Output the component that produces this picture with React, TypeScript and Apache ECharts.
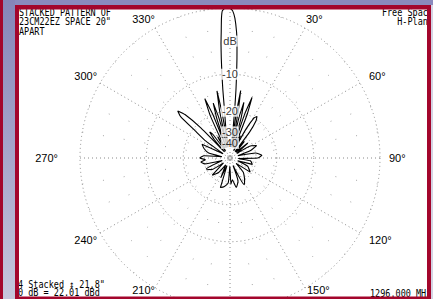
import React, { useEffect, useRef } from "react";
import * as echarts from "echarts";

// Radiation pattern (compass angle in degrees, gain in dB relative to 0 dB)
const patternAngles = [
  0, 1, 2, 3, 3.5, 4, 4.5, 5, 5.5, 6, 6.5, 8, 9, 10, 11, 12.5, 14, 15.5, 17, 18.5, 20, 21.5, 23,
  25, 26.5, 29, 31, 33, 35, 37, 38.5, 41, 46, 50, 56, 60, 65, 70, 74, 79, 85, 90, 94, 98, 106, 110, 115, 125, 131, 137,
  146, 152, 158, 161, 168, 174, 178, 181, 184, 192, 198, 202, 205, 212, 218, 226, 233, 238, 245, 252, 257, 262, 266,
  270, 275, 279, 283, 290, 296, 302, 305, 308, 310, 312, 314, 316, 318, 319.5, 322, 324, 327, 330, 333, 335, 337,
  338.5, 340, 341.5, 343, 344.5, 346, 347.5, 349, 350, 351, 352, 353.5, 354, 354.5, 355, 355.5,
  356, 356.5, 357, 358, 359, 360,
];
const patternDb = [
  0, -0.3, -1.2, -3, -4.6, -7, -10, -13.5, -19, -28, -45, -20, -13.5, -20, -45, -22, -16.5, -22, -45, -20,
  -14.5, -20, -45, -31, -50, -26, -20, -19, -20.5, -26, -50, -33, -50, -32, -50, -31, -28, -33, -50,
  -30, -26.5, -29, -50, -34, -32, -50, -35, -31, -50, -35, -30, -27.5, -50, -31, -27.5, -33, -30, -50, -31, -28, -27,
  -50, -33, -50, -36, -31, -50, -33, -30, -50, -30, -28, -31, -27.5, -30, -50, -33, -29, -27, -50, -28, -21, -14.5,
  -13, -15, -22, -50, -31, -26, -28, -50, -31, -45, -20, -14.5, -20, -45, -22, -16.5, -22, -45, -20, -13.5, -20,
  -45, -28, -19, -13.5, -10, -7, -4.6, -3, -1.2, -0.3, 0,
];

// Grid rings (dB) and their labels on the 0° axis
const ringDb = [0, -10, -20, -30, -40];
const scaleLabels = ["dB", "-10", "-20", "-30", "-40"];

// Text blocks
const titleLines = ["STACKED PATTERN OF", '23CM22EZ SPACE 20"', "APART"];
const planeLines = ["Free Space", "H-Plane"];
const footerLines = ['4 Stacked \u2195 21.8"', "0 dB = 22.01 dBd"];
const freqLabel = "1296.000 MHz";

const CX = 230;
const CY = 158;
const R = 150;
const RED = "#a3062c";
const GRID = "#8a8a8a";
const MONO = '"DejaVu Sans Mono", "Liberation Mono", monospace';
const SANS = '"Liberation Sans", Arial, sans-serif';

// per-label nudges of the compass labels: [top, right, bottom, left]
const anglePad: Record<number, number[]> = {
  30: [0, 0, 5, 1],
  60: [0, 0, 2, 9],
  90: [0, 0, 0, 9],
  120: [0, 0, 0, 9],
  150: [0, 0, 0, 2],
  210: [0, 0, 0, 0],
  240: [0, 3, 0, 0],
  270: [0, 22, 0, 0],
  300: [0, 3, 2, 0],
  330: [0, 0, 5, 0],
};
// compass labels that sit on the bottom edge get a tighter line box (lifts them)
const tightLabels = [150, 210];

// ARRL log scale: each 2 dB step shrinks radius by factor 0.89
const arrl = (db: number) => Math.pow(0.89, -db / 2);

export default function App() {
  const ref = useRef<HTMLDivElement>(null);

  useEffect(() => {
    if (!ref.current) return;
    const chart = echarts.init(ref.current, undefined, { renderer: "svg" });

    const ringPolars = ringDb.slice(1).map((db) => ({ center: [CX, CY], radius: R * arrl(db) }));
    const polar = [{ center: [CX, CY], radius: R }, ...ringPolars];

    const ringAngleAxes = ringDb.slice(1).map((_, i) => ({
      polarIndex: i + 1,
      type: "value",
      min: 0,
      max: 360,
      startAngle: 90,
      clockwise: true,
      axisLine: { show: true, lineStyle: { color: GRID, width: 1, type: [1, 3] } },
      axisTick: { show: false },
      axisLabel: { show: false },
      splitLine: { show: false },
    }));

    const radiusAxes = polar.map((_, i) => ({
      polarIndex: i,
      type: "value",
      min: 0,
      max: 1,
      axisLine: { show: false },
      axisTick: { show: false },
      axisLabel: { show: false },
      splitLine: { show: false },
    }));

    const patternData = patternAngles.map((a, i) => [arrl(patternDb[i]), a]);

    const labelData = scaleLabels.map((t, i) => {
      const r = i === 0 ? (arrl(ringDb[0]) + arrl(ringDb[1])) / 2 : arrl(ringDb[i]);
      return { value: [r, 0], name: t };
    });

    const rich: Record<string, any> = {};
    Object.keys(anglePad).forEach((k) => {
      const n = Number(k);
      rich["a" + k] = {
        padding: anglePad[n],
        fontSize: 11,
        fontFamily: SANS,
        color: "#000",
        lineHeight: tightLabels.includes(n) ? 5 : 13,
      };
    });

    const textEl = (text: string, x: number, y: number, align: string) => ({
      type: "text",
      x,
      y,
      scaleY: 1.2,
      z: 50,
      style: {
        text,
        fontSize: 8.5,
        fontFamily: MONO,
        fill: "#000",
        align,
        verticalAlign: "middle",
      },
    });

    const rect = (x: number, y: number, w: number, h: number, fill: any) => ({
      type: "rect",
      z: 100,
      shape: { x, y, width: w, height: h },
      style: { fill },
      silent: true,
    });

    const option: any = {
      animation: false,
      backgroundColor: "#ffffff",
      polar,
      angleAxis: [
        {
          polarIndex: 0,
          type: "value",
          min: 0,
          max: 360,
          interval: 30,
          startAngle: 90,
          clockwise: true,
          axisLine: { show: true, lineStyle: { color: GRID, width: 1, type: [1, 3] } },
          axisTick: { show: false },
          minorTick: { show: false, splitNumber: 3 },
          axisLabel: {
            margin: 0,
            color: "#000",
            fontSize: 11,
            fontFamily: SANS,
            formatter: (v: number) => (anglePad[v] ? "{a" + v + "|" + v + "\u00b0}" : ""),
            rich,
          },
          splitLine: { show: true, lineStyle: { color: GRID, width: 1, type: [1, 3] } },
          minorSplitLine: { show: true, lineStyle: { color: "#a8a8a8", width: 1, type: [1, 20] } },
        },
        ...ringAngleAxes,
      ],
      radiusAxis: radiusAxes,
      series: [
        {
          type: "line",
          coordinateSystem: "polar",
          polarIndex: 0,
          data: patternData,
          symbol: "none",
          smooth: 0.15,
          lineStyle: { color: "#000", width: 1.1 },
          z: 5,
        },
        {
          type: "scatter",
          coordinateSystem: "polar",
          polarIndex: 0,
          data: labelData,
          symbolSize: 1,
          itemStyle: { color: "rgba(0,0,0,0)" },
          label: {
            show: true,
            position: "inside",
            formatter: (p: any) => p.name,
            fontSize: 11,
            fontFamily: SANS,
            color: "#000",
            backgroundColor: "#fff",
            padding: [0, 1],
          },
          z: 10,
        },
      ],
      graphic: [
        ...titleLines.map((t, i) => textEl(t, 19, 12 + i * 9.5, "left")),
        ...planeLines.map((t, i) => textEl(t, 433, 12 + i * 9.5, "right")),
        ...footerLines.map((t, i) => textEl(t, 18, 284.5 + i * 8, "left")),
        textEl(freqLabel, 370, 293.5, "left"),
        rect(0, 0, 433, 5, "#8a8abd"),
        rect(3, 0, 12, 299, new echarts.graphic.LinearGradient(0, 0, 0, 1, [
          { offset: 0, color: "#8585b8" },
          { offset: 1, color: "#c6c6dc" },
        ])),
        rect(0, 0, 3, 299, RED),
        rect(15, 5, 4, 294, RED),
        rect(15, 5, 416, 4.5, RED),
        rect(427, 5, 4, 294, RED),
        rect(15, 296.5, 416, 2.5, RED),
        rect(431, 5, 2, 294, "#d4d4e4"),
      ],
    };

    chart.setOption(option);
    return () => chart.dispose();
  }, []);

  return (
    <div
      ref={ref}
      style={{ position: "absolute", left: 0, top: 0, width: 433, height: 299 }}
    />
  );
}
